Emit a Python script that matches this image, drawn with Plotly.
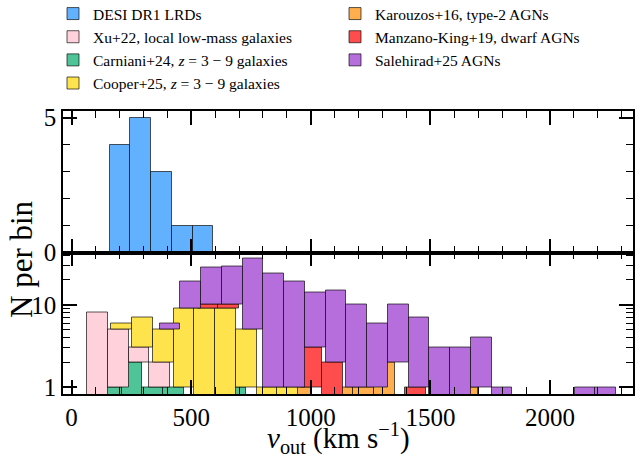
import numpy as np
import plotly.graph_objects as go
from plotly.subplots import make_subplots

# ---- data (counts per bin, 25 equal-width bins of v_out) ----
bin_lo, bin_hi, n_bins = 72.0, 2240.0, 25

desi_dr1_lrds = [0, 4, 5, 3, 1, 1, 0, 0, 0, 0, 0, 0, 0, 0, 0, 0, 0, 0, 0, 0, 0, 0, 0, 0, 0]
carniani24    = [0, 1, 2, 1, 1, 0, 0, 1, 0, 0, 0, 0, 0, 0, 0, 0, 0, 0, 0, 0, 0, 0, 0, 0, 0]
karouzos16    = [0, 0, 0, 0, 0, 0, 0, 0, 0, 0, 1, 0, 1, 1, 2, 0, 0, 0, 1, 0, 0, 0, 0, 0, 0]
xu22          = [8, 4, 1, 1, 0, 0, 0, 0, 0, 0, 0, 0, 0, 0, 0, 0, 0, 0, 0, 0, 0, 0, 0, 0, 0]
cooper25      = [0, 1, 4, 3, 8, 9, 9, 4, 1, 1, 0, 0, 0, 0, 0, 0, 0, 0, 0, 0, 0, 0, 0, 0, 0]
manzano19     = [0, 0, 0, 0, 0, 1, 1, 0, 0, 0, 2, 2, 0, 0, 0, 1, 0, 0, 0, 0, 0, 0, 0, 0, 0]
salehirad25   = [0, 0, 0, 1, 10, 18, 19, 31, 23, 18, 11, 13, 9, 5, 8, 6, 3, 3, 3, 1, 0, 0, 0, 1, 1]

labels = {
    "desi": "DESI DR1 LRDs",
    "xu": "Xu+22, local low-mass galaxies",
    "carniani": "Carniani+24, <i>z</i> = 3 \u2212 9 galaxies",
    "cooper": "Cooper+25, <i>z</i> = 3 \u2212 9 galaxies",
    "karouzos": "Karouzos+16, type-2 AGNs",
    "manzano": "Manzano-King+19, dwarf AGNs",
    "salehirad": "Salehirad+25 AGNs",
}
colors = {
    "desi": "rgb(97,177,255)",
    "xu": "rgb(255,210,219)",
    "carniani": "rgb(78,196,152)",
    "cooper": "rgb(255,227,77)",
    "karouzos": "rgb(255,174,77)",
    "manzano": "rgb(255,77,77)",
    "salehirad": "rgb(182,110,220)",
}
legend_rank = {"desi": 1, "karouzos": 2, "xu": 3, "manzano": 4,
               "carniani": 5, "salehirad": 6, "cooper": 7}

edges = np.linspace(bin_lo, bin_hi, n_bins + 1)
centers = 0.5 * (edges[:-1] + edges[1:])
width = edges[1] - edges[0]

x_range = [-36, 2347]
top_range = [0, 5.25]
bot_range = [np.log10(0.832), np.log10(42.9)]
log_floor = 10 ** (bot_range[0] - 1)

FONT = "Liberation Serif"
edge_line = dict(color="rgba(0,0,0,0.65)", width=1)

fig = make_subplots(rows=2, cols=1, shared_xaxes=True, vertical_spacing=0)

# top panel: DESI
d = np.array(desi_dr1_lrds, float)
m = d > 0
fig.add_trace(go.Bar(x=centers[m], y=d[m], width=width, base=0,
                     marker=dict(color=colors["desi"], line=edge_line),
                     name=labels["desi"], legendrank=legend_rank["desi"]),
              row=1, col=1)

# bottom panel: stacked comparison samples
stack = [("carniani", carniani24), ("karouzos", karouzos16), ("xu", xu22),
         ("cooper", cooper25), ("manzano", manzano19), ("salehirad", salehirad25)]
cum = np.zeros(n_bins)
for key, vals in stack:
    v = np.array(vals, float)
    m = v > 0
    base = np.where(cum > 0, cum, log_floor)
    height = cum + v - base
    fig.add_trace(go.Bar(x=centers[m], y=height[m], width=width, base=base[m],
                         marker=dict(color=colors[key], line=edge_line),
                         name=labels[key], legendrank=legend_rank[key]),
                  row=2, col=1)
    cum = cum + v

tickfont = dict(family=FONT, size=25, color="black")
common_x = dict(range=x_range, showline=True, linecolor="black", linewidth=1.6,
                mirror="allticks", ticks="inside", ticklen=14, tickwidth=1.5,
                tickcolor="black", tick0=0, dtick=500, showgrid=False, zeroline=False,
                automargin=False,
                minor=dict(ticks="inside", ticklen=7, tickwidth=1.2, tickcolor="black",
                           tick0=0, dtick=100, showgrid=False),
                tickfont=tickfont)
fig.update_xaxes(**common_x)
fig.update_xaxes(showticklabels=False, row=1, col=1)

common_y = dict(showline=True, linecolor="black", linewidth=1.6, mirror="allticks",
                ticks="inside", ticklen=14, tickwidth=1.5, tickcolor="black",
                showgrid=False, zeroline=False, tickfont=tickfont, automargin=False)
fig.update_yaxes(range=top_range, tickvals=[0, 5], ticktext=["0", "5"],
                 minor=dict(ticks="inside", ticklen=7, tickwidth=1.2, tickcolor="black",
                            tick0=0, dtick=1, showgrid=False),
                 row=1, col=1, **common_y)
fig.update_yaxes(type="log", range=bot_range, tickvals=[1, 10], ticktext=["1", "10"],
                 minor=dict(ticks="inside", ticklen=7, tickwidth=1.2, tickcolor="black",
                            tickvals=[2, 3, 4, 5, 6, 7, 8, 9, 20, 30, 40], showgrid=False),
                 row=2, col=1, **common_y)

# plot area in pixels: x 63..633, y 111..394
fig.add_annotation(text="N per bin", xref="paper", yref="paper",
                   x=(21 - 63) / 570, y=(394 - 259) / 283, textangle=-90, showarrow=False,
                   xanchor="center", yanchor="middle",
                   font=dict(family=FONT, size=31, color="black"))
fig.add_annotation(text="<i>v</i><sub>out</sub> (km s<sup>\u22121</sup>)",
                   xref="paper", yref="paper", x=(338 - 63) / 570, y=(394 - 438) / 283,
                   xanchor="center", yanchor="middle", showarrow=False,
                   font=dict(family=FONT, size=29, color="black"))

fig.update_layout(
    width=642, height=457,
    margin=dict(l=63, r=9, t=111, b=63, autoexpand=False),
    paper_bgcolor="white", plot_bgcolor="white",
    bargap=0,
    font=dict(family=FONT, color="black"),
    legend=dict(orientation="h", x=(53 - 63) / 570, y=(394 + 3) / 283,
                xanchor="left", yanchor="top",
                entrywidth=237, entrywidthmode="pixels", traceorder="normal",
                font=dict(family=FONT, size=15.5, color="black"),
                bgcolor="rgba(0,0,0,0)", itemwidth=30),
)

fig.write_html("out.html", config={"displayModeBar": False},
               post_script="document.body.style.margin='0px';")
